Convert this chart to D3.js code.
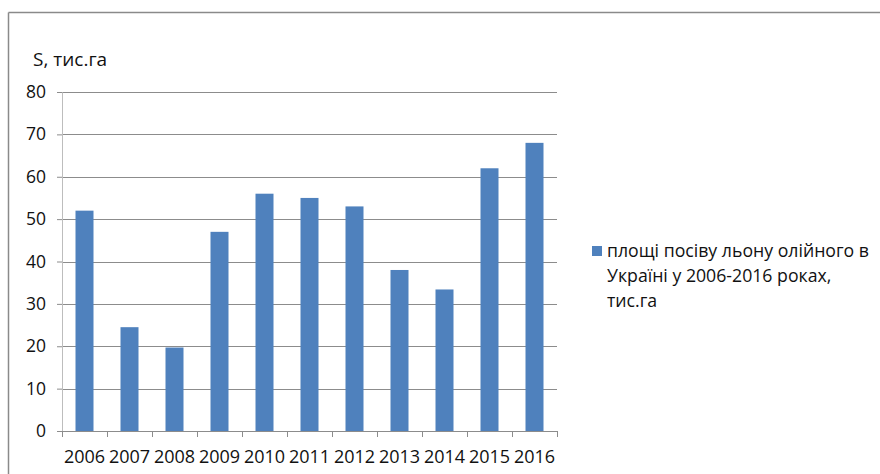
<!DOCTYPE html>
<html>
<head>
<meta charset="utf-8">
<script src="https://cdn.jsdelivr.net/npm/d3@7"></script>
<style>
body{margin:0;background:#fff;}
svg text{font-family:"Open Sans","Liberation Sans",sans-serif;fill:#111;}
</style>
</head>
<body>
<div id="chart"></div>
<script>
// Data
const years = ["2006","2007","2008","2009","2010","2011","2012","2013","2014","2015","2016"];
const area = [52, 24.5, 19.7, 47, 56, 55, 53, 38, 33.4, 62, 68];
const yTicks = [0,10,20,30,40,50,60,70,80];
const yTitle = "S, тис.га";
const legendLines = ["площі посіву льону олійного в","Україні у 2006-2016 роках,","тис.га"];

const W = 880, H = 474;
const margin = {top:92, left:62};
const width = 557 - 62;
const height = 431 - 92;

const svg = d3.select("#chart").append("svg")
.attr("width", W)
.attr("height", H);

// outer frame (left and top edges visible)
svg.append("line").attr("x1",8.5).attr("y1",12.5).attr("x2",W).attr("y2",12.5)
.attr("stroke","#8a8a8a").attr("stroke-width",1.5);
svg.append("line").attr("x1",8.5).attr("y1",12.5).attr("x2",8.5).attr("y2",H)
.attr("stroke","#8a8a8a").attr("stroke-width",1.5);

const g = svg.append("g").attr("transform",`translate(${margin.left},${margin.top})`);

// X scale
const x = d3.scaleBand()
.domain(years)
.range([0,width])
.paddingInner(0.6)
.paddingOuter(0.3);

// Y scale
const y = d3.scaleLinear()
.domain([0,80])
.range([height,0]);

// gridlines
g.selectAll(".grid")
.data(yTicks.filter(d => d > 0))
.enter()
.append("line")
.attr("x1",0).attr("x2",width)
.attr("y1",d => Math.round(y(d))+0.5).attr("y2",d => Math.round(y(d))+0.5)
.attr("stroke","#8c8c8c");

// Y axis
const yAxis = g.append("g")
.call(d3.axisLeft(y).tickValues(yTicks).tickSize(5).tickPadding(11));
yAxis.select(".domain").attr("stroke","#bdbdbd");
yAxis.selectAll(".tick line").attr("stroke","#8c8c8c");
yAxis.selectAll("text").style("font-size","17.5px").attr("fill","#111");

// bars
g.selectAll(".bar")
.data(area)
.enter()
.append("rect")
.attr("class","bar")
.attr("x",(d,i) => x(years[i]))
.attr("y",d => y(d))
.attr("width",x.bandwidth())
.attr("height",d => height - y(d))
.attr("fill","#4f81bd");

// X axis with ticks at category boundaries
const xAxis = g.append("g").attr("transform",`translate(0,${height})`);
xAxis.append("line").attr("x1",0).attr("x2",width).attr("y1",0.5).attr("y2",0.5)
.attr("stroke","#8c8c8c");
xAxis.selectAll(".xt")
.data(d3.range(years.length+1))
.enter()
.append("line")
.attr("x1",d => Math.round(d*width/years.length)+0.5)
.attr("x2",d => Math.round(d*width/years.length)+0.5)
.attr("y1",0).attr("y2",6)
.attr("stroke","#8c8c8c");
xAxis.selectAll(".xl")
.data(years)
.enter()
.append("text")
.attr("x",d => x(d)+x.bandwidth()/2)
.attr("y",32)
.attr("text-anchor","middle")
.style("font-size","18px")
.text(d => d);

// y axis title
svg.append("text")
.attr("x",33).attr("y",66)
.style("font-size","19px")
.text(yTitle);

// legend
svg.append("rect")
.attr("x",592).attr("y",246).attr("width",10).attr("height",10)
.attr("fill","#4f81bd");
svg.selectAll(".leg")
.data(legendLines)
.enter()
.append("text")
.attr("x",607)
.attr("y",(d,i) => 257 + i*25)
.style("font-size","17.7px")
.text(d => d);
</script>
</body>
</html>
